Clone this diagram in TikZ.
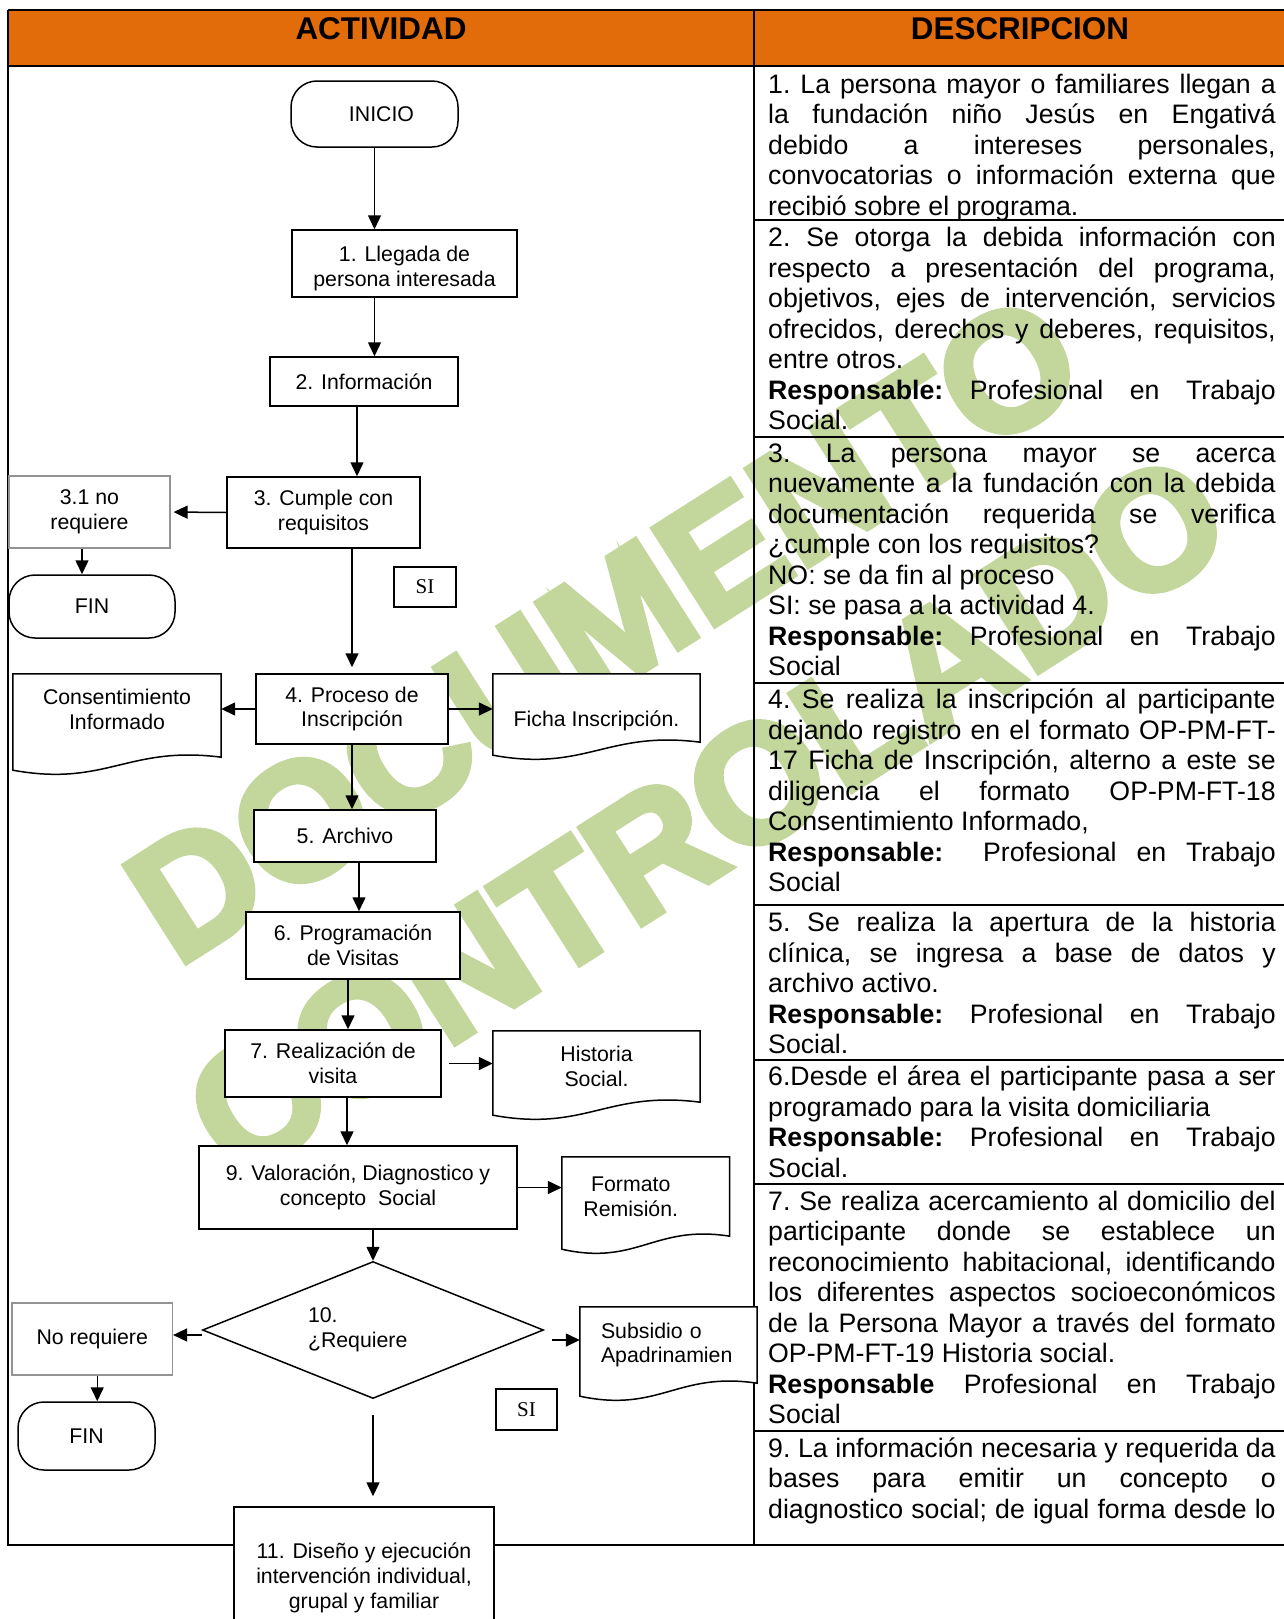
\documentclass[tikz,border=0pt]{standalone}
\usepackage{fontspec}
\setmainfont{Liberation Sans}
\newfontfamily\sifont{Liberation Serif}
\newfontfamily\wmfont{Liberation Sans}[BoldFeatures={FakeBold=4}]
\usetikzlibrary{shapes.geometric,arrows.meta,calc}
\definecolor{hdrorange}{RGB}{227,108,10}
\definecolor{wmgreen}{RGB}{195,214,155}
\newcommand{\boxfont}{\fontsize{21.3}{24.8}\selectfont}
\newcommand{\descfont}{\fontsize{26.7}{30.5}\selectfont}
\newcommand{\fixsp}{\spaceskip=0pt\xspaceskip=0pt\frenchspacing}
\newlength{\dw}
\setlength{\dw}{507.5pt}
\newcommand{\jline}[1]{\makebox[\dw][s]{\fixsp #1}}
\begin{document}
\begin{tikzpicture}[x=1pt,y=-1pt,
    box/.style={draw,line width=1.5pt,fill=white,align=center,font=\boxfont,inner sep=2pt},
    gbox/.style={box,draw=gray!85,line width=1.2pt},
    term/.style={box,rounded corners=26pt},
    sibox/.style={draw,line width=1.5pt,fill=white,font=\sifont\fontsize{21}{24}\selectfont},
    docu/.style={fill=white,align=center,font=\boxfont,inner sep=0pt},
    arr/.style={line width=1.5pt,-{Triangle[length=14pt,width=13pt]}},
    tline/.style={line width=2.4pt},
    desc/.style={anchor=base west,text width=\dw,align=left,inner sep=0pt,font=\descfont},
    wm/.style={text=wmgreen,rotate=32.5,font=\wmfont\bfseries\fontsize{166}{166}\selectfont}]
  \useasboundingbox (0,0) rectangle (1284,1619);
  \clip (0,0) rectangle (1284,1619);

  % marca de agua
  \node[wm] (wm1) at (604,628) {DOCUMENTO};
  \node[wm] (wm2) at (707,815) {CONTROLADO};

  % tabla
  \fill[hdrorange] (8,10) rectangle (1290,66);
  \draw[tline] (8,10) -- (1290,10);
  \draw[tline] (8,66) -- (1290,66);
  \draw[tline] (8,10) -- (8,1545) -- (1290,1545);
  \draw[tline] (754,10) -- (754,1545);
  \foreach \y in {220,437,683,905,1060,1184,1431}
    \draw[line width=2pt] (754,\y) -- (1290,\y);
  \node[anchor=base,font=\bfseries\fontsize{31.4}{34}\selectfont] (hact) at (381,40) {ACTIVIDAD};
  \node[anchor=base,font=\bfseries\fontsize{31.4}{34}\selectfont] (hdes) at (1020,40) {DESCRIPCION};

  % flujo
  \node[term,minimum width=167pt,minimum height=66pt] (inicio) at (374.5,114) {\hspace*{14pt}INICIO};
  \node[box,minimum width=225pt,minimum height=67pt] (n1) at (404.5,263.5) {\strut\\[-16.7pt]1. Llegada de\\persona interesada};
  \node[box,minimum width=188pt,minimum height=49pt] (n2) at (364,381.5) {2. Información};
  \node[box,minimum width=193pt,minimum height=71pt] (n3) at (323.5,512.5) {3. Cumple con\\requisitos};
  \node[gbox,minimum width=161pt,minimum height=72pt] (n31) at (89.5,512) {3.1 no\\requiere};
  \node[term,minimum width=166pt,minimum height=63pt] (fin1) at (92,606.5) {FIN};
  \node[sibox,minimum width=62pt,minimum height=40pt] (si1) at (425,587) {SI};
  \node[box,minimum width=192pt,minimum height=70pt] (n4) at (352,709) {4. Proceso de\\Inscripción};
  \node[docu,minimum width=208pt,minimum height=83pt] (consent) at (117,715.5) {Consentimiento\\Informado\\[-20pt]\strut};
  \node[docu,minimum width=207pt,minimum height=68pt] (ficha) at (596.5,708) {\strut\\Ficha Inscripción.};
  \node[box,minimum width=182pt,minimum height=52pt] (n5) at (345,836) {5. Archivo};
  \node[box,minimum width=214pt,minimum height=67pt] (n6) at (353,945.5) {6. Programación\\de Visitas};
  \node[box,minimum width=216pt,minimum height=67pt] (n7) at (333,1063.5) {7. Realización de\\visita};
  \node[docu,minimum width=207pt,minimum height=71pt] (hist) at (596.5,1066.5) {Historia\\Social.};
  \node[box,minimum width=318pt,minimum height=83pt] (n9) at (358,1187.5) {9. Valoración, Diagnostico y\\concepto~ Social};
  \node[docu,minimum width=167.5pt,minimum height=79pt] (formato) at (645.75,1196.5) {Formato\hspace*{30pt}\\Remisión.\hspace*{30pt}};
  \node[draw,diamond,aspect=2.5,line width=1.5pt,fill=white,inner sep=0pt,
        minimum width=341pt,minimum height=137pt,
        text width=130pt,align=left,font=\boxfont] (dia) at (373,1330) {10.\\¿Requiere};
  \node[gbox,minimum width=160.5pt,minimum height=72pt] (noreq) at (92.25,1339) {No requiere};
  \node[term,minimum width=137pt,minimum height=68pt] (fin2) at (86.5,1436) {FIN};
  \node[docu,minimum width=177pt,minimum height=76pt,text width=135pt,align=left] (subsid) at (668.5,1345) {Subsidio o\\Apadrinamien};
  \node[sibox,minimum width=61pt,minimum height=41pt] (si2) at (526.5,1409.5) {SI};
  \node[box,minimum width=260pt,minimum height=142pt] (n11) at (364,1578) {11. Diseño y ejecución\\intervención individual,\\grupal y familiar};

  % documentos
  \foreach \d in {consent,ficha,hist,formato,subsid}{
    \fill[white] (\d.south east)
      .. controls ($(\d.south west)!0.55!(\d.south east)+(0,-12)$)
      and ($(\d.south west)!0.45!(\d.south east)+(0,30)$) .. ($(\d.south west)+(0,13)$)
      -- (\d.south west) -- cycle;
    \draw[line width=1.5pt] (\d.north west) -- (\d.north east) -- (\d.south east)
      .. controls ($(\d.south west)!0.55!(\d.south east)+(0,-12)$)
      and ($(\d.south west)!0.45!(\d.south east)+(0,30)$) .. ($(\d.south west)+(0,13)$)
      -- cycle;
  }

  % conectores
  \draw[arr] (inicio.south) -- (inicio.south |- n1.north);
  \draw[arr] (n1.south -| inicio.south) -- (n2.north -| inicio.south);
  \draw[arr] ([xshift=-7pt]n2.south) -- ([xshift=-7pt]n2.south |- n3.north);
  \draw[arr,shorten >=3pt] (n3.west) -- (n31.east);
  \draw[arr] ([xshift=-7.5pt]n31.south) -- ([xshift=-7.5pt]n31.south |- fin1.north);
  \draw[arr,shorten >=6pt] (n3.south -| n4.north) -- (n4.north);
  \draw[arr] (n4.west) -- (n4.west -| consent.east);
  \draw[arr] (n4.east) -- (n4.east -| ficha.west);
  \draw[arr] (n4.south) -- (n4.south |- n5.north);
  \draw[arr] ([xshift=14pt]n5.south) -- ([xshift=14pt]n5.south |- n6.north);
  \draw[arr] ([xshift=-5pt]n6.south) -- ([xshift=-5pt]n6.south |- n7.north);
  \draw[arr,shorten <=7pt] (n7.east) -- (n7.east -| hist.west);
  \draw[arr] ([xshift=14pt]n7.south) -- ([xshift=14pt]n7.south |- n9.north);
  \draw[arr] (n9.east) -- (n9.east -| formato.west);
  \draw[arr] (n9.south -| dia.north) -- (dia.north);
  \draw[arr] ([yshift=-5pt]dia.west) -- ([yshift=-5pt]dia.west -| noreq.east);
  \draw[arr] ([xshift=5pt]noreq.south) -- ([xshift=5pt]noreq.south |- fin2.north);
  \draw[arr,shorten <=8pt] ([yshift=-10pt]dia.east) -- ([yshift=-10pt]dia.east -| subsid.west);
  \draw[arr,shorten <=16pt,shorten >=10pt] (dia.south) -- (dia.south |- n11.north);

  % descripcion
  \node[desc] (d1) at (768,93) {\fixsp\jline{1. La persona mayor o familiares llegan a}\\
    \jline{la fundación niño Jesús en Engativá}\\
    \jline{debido a intereses personales,}\\
    \jline{convocatorias o información externa que}\\
    recibió sobre el programa.};
  \node[desc] (d2) at (768,246.5) {\fixsp\jline{2. Se otorga la debida información con}\\
    \jline{respecto a presentación del programa,}\\
    \jline{objetivos, ejes de intervención, servicios}\\
    \jline{ofrecidos, derechos y deberes, requisitos,}\\
    entre otros.\\
    \jline{\textbf{Responsable:} Profesional en Trabajo}\\
    Social.};
  \node[desc] (d3) at (768,462) {\fixsp\jline{3. La persona mayor se acerca}\\
    \jline{nuevamente a la fundación con la debida}\\
    \jline{documentación requerida se verifica}\\
    ¿cumple con los requisitos?\\
    NO: se da fin al proceso\\
    SI: se pasa a la actividad 4.\\
    \jline{\textbf{Responsable:} Profesional en Trabajo}\\
    Social};
  \node[desc] (d4) at (768,708.5) {\fixsp\jline{4. Se realiza la inscripción al participante}\\
    \jline{dejando registro en el formato OP-PM-FT-}\\
    \jline{17 Ficha de Inscripción, alterno a este se}\\
    \jline{diligencia el formato OP-PM-FT-18}\\
    Consentimiento Informado,\\
    \jline{\textbf{Responsable:}\ \ Profesional en Trabajo}\\
    Social};
  \node[desc] (d5) at (768,931.5) {\fixsp\jline{5. Se realiza la apertura de la historia}\\
    \jline{clínica, se ingresa a base de datos y}\\
    archivo activo.\\
    \jline{\textbf{Responsable:} Profesional en Trabajo}\\
    Social.};
  \node[desc] (d6) at (768,1085.5) {\fixsp\jline{6.Desde el área el participante pasa a ser}\\
    programado para la visita domiciliaria\\
    \jline{\textbf{Responsable:} Profesional en Trabajo}\\
    Social.};
  \node[desc] (d7) at (768,1210) {\fixsp\jline{7. Se realiza acercamiento al domicilio del}\\
    \jline{participante donde se establece un}\\
    \jline{reconocimiento habitacional, identificando}\\
    \jline{los diferentes aspectos socioeconómicos}\\
    \jline{de la Persona Mayor a través del formato}\\
    OP-PM-FT-19 Historia social.\\
    \jline{\textbf{Responsable} Profesional en Trabajo}\\
    Social};
  \node[desc] (d8) at (768,1457) {\fixsp\jline{9. La información necesaria y requerida da}\\
    \jline{bases para emitir un concepto o}\\
    \jline{diagnostico social; de igual forma desde lo}};
\end{tikzpicture}
\end{document}
